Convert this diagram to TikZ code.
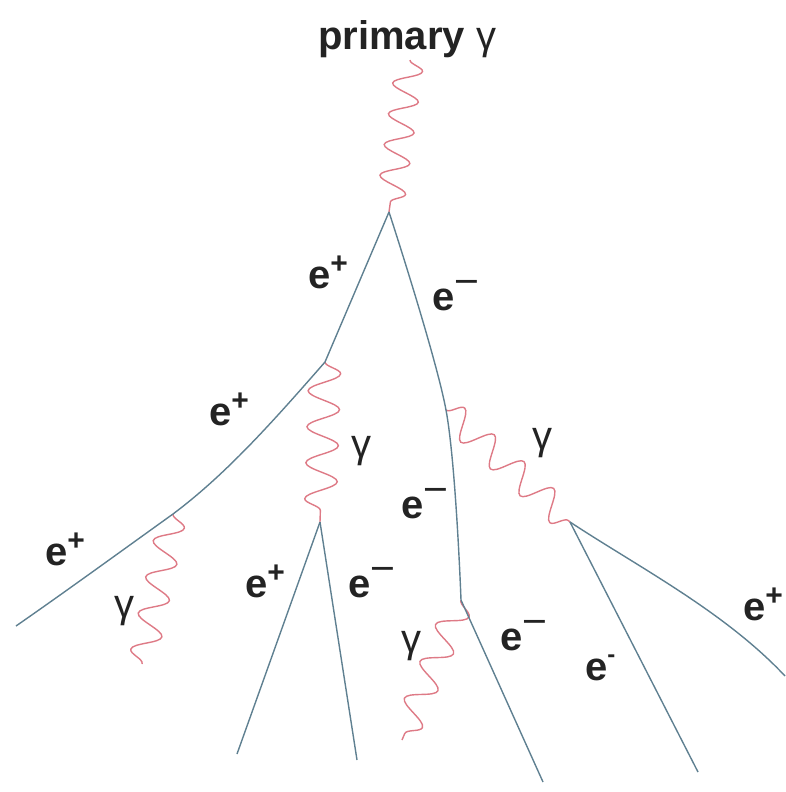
\documentclass[tikz,border=0pt]{standalone}
\usepackage{fontspec}
\usepackage{graphicx}
\setmainfont{Liberation Sans}
\usetikzlibrary{decorations.pathmorphing}
\definecolor{phot}{RGB}{222,122,134}
\definecolor{elec}{RGB}{95,128,145}
\definecolor{txt}{RGB}{35,35,35}
\newcommand\epos{\textbf{e}\raisebox{0.36em}{\fontsize{30}{30}\selectfont\bfseries +}}
\newcommand\eneg{\textbf{e}\raisebox{0.50em}{\scalebox{1.6}[1]{\fontsize{26}{26}\selectfont\bfseries −}}}
\newcommand\eneghy{\textbf{e}\raisebox{0.45em}{\fontsize{24}{24}\selectfont\bfseries -}}
\begin{document}
\begin{tikzpicture}[x=1pt,y=-1pt,
  lab/.style={font=\fontsize{40}{44}\selectfont, text=txt, inner sep=0pt, anchor=base west},
  eline/.style={draw=elec, line width=1.4pt},
  photon/.style={draw=phot, line width=1.4pt, decorate,
     decoration={snake, amplitude=14pt, segment length=#1}},
  wide/.style={decoration={amplitude=16pt}}]
\useasboundingbox (0,0) rectangle (785,792);
% vertices
\coordinate (P0) at (410,60);
\coordinate (V1) at (389,212);
\coordinate (V2) at (325,362);
\coordinate (V3) at (446,410);
\coordinate (V4) at (173,514);
\coordinate (V5) at (461,600);
\coordinate (V6) at (320,522);
\coordinate (V7) at (570,522);
% free ends
\coordinate (L1) at (16,626);
\coordinate (G4) at (142,664);
\coordinate (A6) at (237,754);
\coordinate (B6) at (357,760);
\coordinate (G5) at (402,740);
\coordinate (E5) at (543,782);
\coordinate (A7) at (698,772);
\coordinate (B7) at (785,676);
% photons
\draw[photon=31] (P0) -- (V1);
\draw[photon=36, wide] (V2) -- (V6);
\draw[photon=40] (V3) -- (V7);
\draw[photon=37] (V4) -- (G4);
\draw[photon=40] (V5) -- (G5);
% electrons / positrons
\draw[eline] (V1) -- (V2);
\draw[eline] plot[smooth, tension=0.5] coordinates {(V1) (V3) (V5)};
\draw[eline] (V5) -- (E5);
\draw[eline] (V2) .. controls (270,425) and (225,475) .. (V4) .. controls (120,552) and (65,592) .. (L1);
\draw[eline] (V6) -- (A6);
\draw[eline] (V6) -- (B6);
\draw[eline] (V7) -- (A7);
\draw[eline] (V7) .. controls (640,568) and (725,612) .. (B7);
% labels
\node[lab] (title) at (318,50) {\textbf{primary} γ};
\node[lab] (t1) at (308,288) {\epos};
\node[lab] (t2) at (432,310) {\eneg};
\node[lab] (t3) at (209,425) {\epos};
\node[lab] (t4) at (351,457) {γ};
\node[lab] (t5) at (401,518) {\eneg};
\node[lab] (t6) at (532,449) {γ};
\node[lab] (t7) at (45,565) {\epos};
\node[lab] (t8) at (114,617) {γ};
\node[lab] (t9) at (245,597) {\epos};
\node[lab] (t10) at (348,597) {\eneg};
\node[lab] (t11) at (401,652) {γ};
\node[lab] (t12) at (500,650) {\eneg};
\node[lab] (t13) at (585,680) {\eneghy};
\node[lab] (t14) at (743,620) {\epos};
\end{tikzpicture}
\end{document}
